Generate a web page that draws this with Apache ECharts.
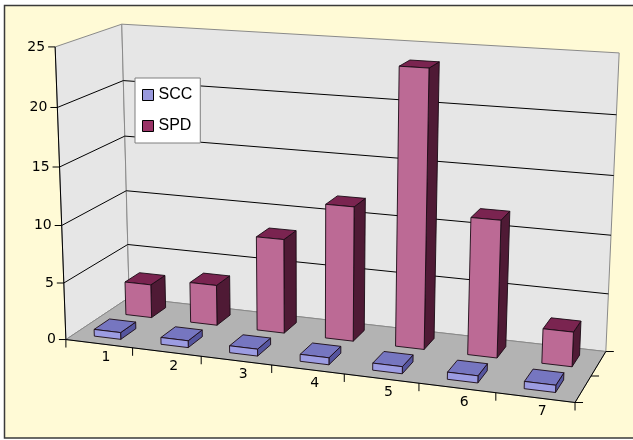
<!DOCTYPE html>
<html>
<head>
<meta charset="utf-8">
<script src="https://cdn.jsdelivr.net/npm/echarts@6/dist/echarts.min.js"></script>
<style>
html,body{margin:0;padding:0;background:#ffffff;}
#chart{width:633px;height:440px;}
</style>
</head>
<body>
<div id="chart"></div>
<script>
// ---- data ----
const categories = ['1', '2', '3', '4', '5', '6', '7'];
const seriesNames = ['SCC', 'SPD'];
const sccValues = [0.6, 0.6, 0.6, 0.6, 0.6, 0.6, 0.6];
const spdValues = [3, 3.6, 8.3, 11.7, 23.7, 11.7, 2.95];
const yTicks = [0, 5, 10, 15, 20, 25];

// ---- perspective camera fitted to the box corners (frame geometry) ----
const boxCorners = [
  [0, 0, 0, 67, 339], [1, 0, 0, 575, 403], [0, 0, 1, 128, 298], [1, 0, 1, 606, 351],
  [0, 1, 0, 54, 47], [0, 1, 1, 123, 24], [1, 1, 1, 619, 53]
];
function fitCamera(pts) {
  const A = [], b = [];
  pts.forEach(function (p) {
    const X = p[0], Y = p[1], Z = p[2], u = p[3], v = p[4];
    A.push([X, Y, Z, 1, 0, 0, 0, 0, -u * X, -u * Y, -u * Z]); b.push(u);
    A.push([0, 0, 0, 0, X, Y, Z, 1, -v * X, -v * Y, -v * Z]); b.push(v);
  });
  const n = 11, M = [], r = [];
  for (let i = 0; i < n; i++) {
    M.push(new Array(n).fill(0)); r.push(0);
    for (let k = 0; k < A.length; k++) {
      r[i] += A[k][i] * b[k];
      for (let j = 0; j < n; j++) M[i][j] += A[k][i] * A[k][j];
    }
  }
  for (let c = 0; c < n; c++) {
    let piv = c;
    for (let i = c + 1; i < n; i++) if (Math.abs(M[i][c]) > Math.abs(M[piv][c])) piv = i;
    [M[c], M[piv]] = [M[piv], M[c]]; [r[c], r[piv]] = [r[piv], r[c]];
    for (let i = 0; i < n; i++) {
      if (i === c) continue;
      const f = M[i][c] / M[c][c];
      for (let j = c; j < n; j++) M[i][j] -= f * M[c][j];
      r[i] -= f * r[c];
    }
  }
  return r.map(function (v, i) { return v / M[i][i]; });
}
const cam = fitCamera(boxCorners);
function P(X, Y, Z) {
  const w = cam[8] * X + cam[9] * Y + cam[10] * Z + 1;
  return [(cam[0] * X + cam[1] * Y + cam[2] * Z + cam[3]) / w,
          (cam[4] * X + cam[5] * Y + cam[6] * Z + cam[7]) / w];
}

const FONT = '"Liberation Sans", Arial, sans-serif';
const AXIS_FONT = '14px "DejaVu Sans", sans-serif';
const BAR_W = 0.4;      // fraction of category band
const BAR_D = 0.24;     // depth of a bar (fraction of floor depth)
const rowCenter = { SCC: 0.25, SPD: 0.75 };
const palette = {
  SCC: { base: '#9999DD', front: '#9C9CE2', top: '#7676C0', side: '#55559E' },
  SPD: { base: '#993366', front: '#BC6A95', top: '#7A2450', side: '#4F1A35' }
};

function norm(params, api, pt) {
  const cs = params.coordSys;
  return [(pt[0] - cs.x) / cs.width, (cs.y + cs.height - pt[1]) / cs.height];
}
function poly(pts, fill, stroke, lw) {
  return { type: 'polygon', shape: { points: pts }, style: { fill: fill, stroke: stroke, lineWidth: lw || 1 } };
}
function line(a, b, stroke, lw) {
  return { type: 'line', shape: { x1: a[0], y1: a[1], x2: b[0], y2: b[1] }, style: { stroke: stroke, lineWidth: lw || 1 } };
}

// frame: walls, floor, depth axis
function renderFrame(params, api) {
  const ch = [];
  ch.push(poly([P(0,0,0), P(0,0,1), P(0,1,1), P(0,1,0)], '#E6E6E6', '#8a8a8a', 1));
  ch.push(poly([P(0,0,1), P(1,0,1), P(1,1,1), P(0,1,1)], '#E6E6E6', '#8a8a8a', 1));
  ch.push(poly([P(0,0,0), P(1,0,0), P(1,0,1), P(0,0,1)], '#B3B3B3', '#8a8a8a', 1));
  ch.push(line(P(0,0,0), P(1,0,0), '#000', 1));
  ch.push(line(P(1,0,0), P(1,0,1), '#000', 1));
  ch.push(line(P(0,0,0), P(0,1,0), '#000', 1));
  [0, 0.5, 1].forEach(function (z) {
    const p = P(1, 0, z);
    ch.push(line(p, [p[0] + 8, p[1]], '#000', 1));
  });
  return { type: 'group', children: ch };
}

// value axis: gridlines, ticks, labels
function renderValueTick(params, api) {
  const n = norm(params, api, api.coord([0, api.value(1)]));
  const Y = n[1];
  const t = api.value(1);
  const ch = [];
  if (t > 0 && t < yTicks[yTicks.length - 1]) {
    ch.push(line(P(0, Y, 0), P(0, Y, 1), '#000', 1));
    ch.push(line(P(0, Y, 1), P(1, Y, 1), '#000', 1));
  }
  const f = P(0, Y, 0);
  ch.push(line(f, [f[0] - 7, f[1]], '#000', 1));
  ch.push({ type: 'text', style: { text: String(t), x: f[0] - 10, y: f[1], align: 'right', verticalAlign: 'middle',
    font: AXIS_FONT, fill: '#000' } });
  return { type: 'group', children: ch };
}

// category axis: ticks and labels
function renderCatTick(params, api) {
  const i = api.value(0);
  const c = norm(params, api, api.coord([i, 0]));
  const half = api.size([1, 0])[0] / params.coordSys.width / 2;
  const ch = [];
  const a = P(c[0] - half, 0, 0);
  ch.push(line(a, [a[0], a[1] + 8], '#000', 1));
  if (i === categories.length - 1) {
    const e = P(c[0] + half, 0, 0);
    ch.push(line(e, [e[0], e[1] + 8], '#000', 1));
  }
  const m = P(c[0], 0, 0);
  ch.push({ type: 'text', style: { text: categories[i], x: m[0] + 7, y: m[1] + 14, align: 'center', verticalAlign: 'middle',
    font: AXIS_FONT, fill: '#000' } });
  return { type: 'group', children: ch };
}

function barRenderer(name) {
  const col = palette[name];
  return function (params, api) {
    const pt = api.coord([api.value(0), api.value(1)]);
    const n = norm(params, api, pt);
    const half = api.size([1, 0])[0] / params.coordSys.width * BAR_W / 2;
    const x0 = n[0] - half, x1 = n[0] + half, h = n[1];
    const z0 = rowCenter[name] - BAR_D / 2, z1 = rowCenter[name] + BAR_D / 2;
    const stroke = '#1a0a14';
    return { type: 'group', children: [
      poly([P(x1,0,z0), P(x1,0,z1), P(x1,h,z1), P(x1,h,z0)], col.side, stroke, 0.9),
      poly([P(x0,h,z0), P(x1,h,z0), P(x1,h,z1), P(x0,h,z1)], col.top, stroke, 0.9),
      poly([P(x0,0,z0), P(x1,0,z0), P(x1,h,z0), P(x0,h,z0)], col.front, stroke, 0.9)
    ] };
  };
}

const chart = echarts.init(document.getElementById('chart'), null, { renderer: 'canvas' });
chart.setOption({
  animation: false,
  backgroundColor: 'transparent',
  graphic: [{
    type: 'rect', z: -10, silent: true,
    shape: { x: 4.5, y: 5.5, width: 700, height: 432.5 },
    style: { fill: '#FFFAD6', stroke: '#3a3a3a', lineWidth: 1.5 }
  }],
  grid: { left: 0, top: 0, width: 600, height: 300, show: false },
  xAxis: { type: 'category', data: categories, show: false },
  yAxis: { type: 'value', min: 0, max: 25, interval: 5, show: false },
  legend: {
    data: seriesNames,
    orient: 'vertical',
    left: 135, top: 78,
    width: 68,
    padding: [9, 8, 9, 7],
    itemGap: 15,
    itemWidth: 11, itemHeight: 11,
    icon: 'rect',
    backgroundColor: '#ffffff',
    borderColor: '#7f7f7f', borderWidth: 1,
    itemStyle: { borderColor: '#000', borderWidth: 1 },
    textStyle: { fontFamily: FONT, fontSize: 16, color: '#000' },
    selectedMode: false
  },
  series: [
    { type: 'custom', name: '_frame', silent: true, z: 1, data: [[0, 0]], renderItem: renderFrame },
    { type: 'custom', name: '_values', silent: true, z: 2, data: yTicks.map(function (t) { return [0, t]; }), renderItem: renderValueTick },
    { type: 'custom', name: '_cats', silent: true, z: 2, data: categories.map(function (c, i) { return [i, 0]; }), renderItem: renderCatTick },
    { type: 'custom', name: 'SPD', z: 3, itemStyle: { color: palette.SPD.base },
      data: spdValues.map(function (v, i) { return [i, v]; }), renderItem: barRenderer('SPD') },
    { type: 'custom', name: 'SCC', z: 4, itemStyle: { color: palette.SCC.base },
      data: sccValues.map(function (v, i) { return [i, v]; }), renderItem: barRenderer('SCC') }
  ]
});
</script>
</body>
</html>
